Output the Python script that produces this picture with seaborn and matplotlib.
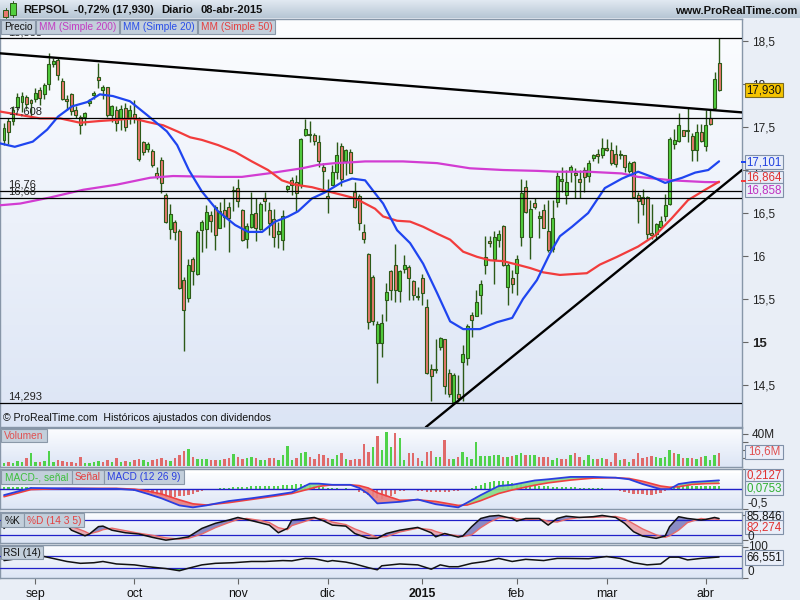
import numpy as np
import pandas as pd
import matplotlib
matplotlib.use("Agg")
import matplotlib.pyplot as plt
import seaborn as sns
from matplotlib.patches import Rectangle
from matplotlib.colors import LinearSegmentedColormap

sns.set_style("white")
plt.rcParams['font.family'] = ['Liberation Sans', 'DejaVu Sans']

# ---------------- data ----------------
holidays = ['2014-12-25', '2014-12-26', '2015-01-01', '2015-04-03', '2015-04-06']
month_labels = ['sep', 'oct', 'nov', 'dic', '2015', 'feb', 'mar', 'abr']

opens = [17.35, 17.57, 17.57, 17.73, 17.79, 17.85, 17.81, 17.83, 17.93, 17.88,
         18.00, 18.23, 18.28, 18.03, 17.83, 17.88, 17.70, 17.62, 17.62, 17.78,
         17.87, 18.08, 17.93, 17.96, 17.64, 17.70, 17.60, 17.72, 17.61, 17.65,
         17.60, 17.32, 17.25, 17.22, 16.97, 17.12, 16.71, 16.31, 16.39, 16.295,
         15.72, 15.51, 15.97, 15.79, 16.30, 16.31, 16.48, 16.57, 16.33, 16.53,
         16.57, 16.76, 16.79, 16.53, 16.20, 16.34, 16.50, 16.31, 16.68, 16.53,
         16.43, 16.26, 16.19, 16.78, 16.88, 16.86, 16.83, 17.41, 17.41, 17.41,
         17.33, 17.03, 16.70, 16.83, 16.98, 17.28, 17.10, 17.21, 16.75, 16.70,
         16.28, 16.02, 15.76, 14.99, 14.99, 15.49, 15.82, 15.89, 15.59, 15.85,
         15.87, 15.71, 15.54, 15.74, 15.41, 14.69, 14.68, 14.94, 15.03, 14.64,
         14.30, 14.40, 14.77, 14.81, 15.31, 15.30, 15.55, 15.90, 16.18, 15.97,
         16.19, 16.35, 15.64, 15.74, 15.80, 16.22, 16.80, 16.22, 16.62, 16.44,
         16.53, 16.29, 16.08, 16.63, 16.87, 16.71, 16.99, 16.97, 16.90, 17.00,
         16.93, 17.14, 17.19, 17.18, 17.26, 17.23, 17.19, 17.17, 17.17, 16.99,
         17.09, 16.71, 16.69, 16.69, 16.27, 16.26, 16.34, 16.46, 16.61, 17.30,
         17.34, 17.46, 17.45, 17.39, 17.23, 17.44, 17.28, 17.61, 17.725, 18.24]
highs = [17.55, 17.60, 17.74, 17.90, 17.91, 17.87, 17.83, 17.95, 17.97, 18.01,
         18.36, 18.30, 18.30, 18.07, 17.87, 17.89, 17.74, 17.64, 17.68, 17.83,
         17.92, 18.25, 17.99, 17.97, 17.76, 17.74, 17.76, 17.78, 17.76, 17.81,
         17.62, 17.34, 17.33, 17.24, 17.04, 17.155, 16.73, 16.61, 16.42, 16.31,
         15.76, 15.97, 15.99, 16.30, 16.42, 16.59, 16.52, 16.59, 16.63, 16.67,
         16.63, 16.81, 16.90, 16.55, 16.38, 16.75, 16.67, 16.63, 16.75, 16.63,
         16.55, 16.40, 16.53, 16.83, 16.92, 16.94, 17.37, 17.59, 17.57, 17.43,
         17.41, 17.08, 16.90, 17.06, 17.33, 17.31, 17.25, 17.25, 16.86, 16.72,
         16.37, 16.03, 15.78, 15.24, 15.33, 15.69, 15.84, 16.14, 15.84, 16.01,
         15.90, 15.72, 15.64, 15.79, 15.50, 14.75, 15.04, 15.06, 15.04, 14.69,
         14.64, 14.62, 14.97, 15.21, 15.35, 15.61, 15.72, 16.23, 16.23, 16.29,
         16.30, 16.36, 15.92, 15.84, 16.01, 16.90, 16.88, 16.65, 16.67, 16.52,
         16.61, 16.65, 16.65, 16.98, 17.04, 17.00, 17.06, 17.02, 17.00, 17.04,
         17.12, 17.19, 17.25, 17.37, 17.36, 17.33, 17.29, 17.23, 17.18, 17.11,
         17.10, 16.75, 16.78, 16.70, 16.61, 16.38, 16.46, 16.72, 17.38, 17.48,
         17.66, 17.47, 17.72, 17.43, 17.54, 17.53, 17.70, 17.70, 18.14, 18.53]
lows = [17.29, 17.30, 17.52, 17.70, 17.68, 17.71, 17.60, 17.79, 17.76, 17.83,
        17.93, 18.20, 18.05, 17.81, 17.70, 17.64, 17.60, 17.42, 17.52, 17.74,
        17.83, 17.95, 17.83, 17.62, 17.56, 17.45, 17.47, 17.45, 17.54, 17.55,
        17.10, 17.17, 17.21, 17.04, 16.90, 16.73, 16.38, 16.20, 16.19, 15.62,
        14.89, 15.47, 15.66, 15.78, 16.05, 16.09, 16.28, 16.07, 16.32, 16.34,
        16.05, 16.52, 16.57, 16.17, 16.09, 16.32, 16.17, 16.30, 16.52, 16.24,
        16.11, 16.09, 16.07, 16.75, 16.71, 16.52, 16.79, 17.39, 17.33, 17.29,
        17.04, 16.73, 16.50, 16.83, 16.90, 16.81, 16.94, 16.96, 16.56, 16.30,
        16.15, 15.15, 15.20, 14.52, 14.83, 15.24, 15.49, 15.47, 15.47, 15.80,
        15.49, 15.49, 15.49, 15.43, 14.63, 14.31, 14.64, 14.91, 14.40, 14.36,
        14.293, 14.30, 14.31, 14.73, 15.06, 15.30, 15.33, 15.79, 16.11, 15.68,
        16.11, 15.88, 15.43, 15.57, 15.55, 16.12, 16.50, 15.96, 16.55, 16.21,
        16.32, 16.05, 16.05, 16.57, 16.75, 16.60, 16.86, 16.67, 16.67, 16.75,
        16.86, 17.10, 17.08, 17.14, 17.22, 17.06, 17.04, 17.13, 16.98, 16.96,
        16.67, 16.38, 16.48, 16.20, 16.20, 16.21, 16.32, 16.41, 16.59, 17.24,
        17.33, 17.39, 17.33, 17.10, 17.10, 17.33, 17.22, 17.52, 17.71, 17.92]
closes = [17.49, 17.44, 17.70, 17.85, 17.86, 17.77, 17.78, 17.90, 17.84, 17.99,
          18.23, 18.27, 18.10, 17.83, 17.80, 17.69, 17.64, 17.52, 17.66, 17.80,
          17.90, 18.05, 17.96, 17.64, 17.74, 17.55, 17.71, 17.50, 17.70, 17.60,
          17.13, 17.21, 17.30, 17.06, 16.92, 16.85, 16.39, 16.49, 16.28, 15.63,
          15.37, 15.90, 15.83, 16.28, 16.39, 16.51, 16.41, 16.24, 16.52, 16.45,
          16.44, 16.77, 16.64, 16.19, 16.35, 16.49, 16.33, 16.61, 16.64, 16.38,
          16.22, 16.29, 16.47, 16.81, 16.83, 16.73, 17.36, 17.48, 17.42, 17.34,
          17.10, 16.99, 16.68, 16.98, 17.18, 16.90, 17.23, 16.97, 16.57, 16.38,
          16.20, 15.23, 15.24, 15.21, 15.22, 15.58, 15.61, 15.60, 15.82, 15.89,
          15.74, 15.55, 15.52, 15.57, 14.64, 14.60, 14.69, 15.05, 14.49, 14.40,
          14.62, 14.35, 14.86, 15.19, 15.26, 15.46, 15.68, 15.99, 16.15, 16.22,
          16.26, 15.90, 15.90, 15.68, 15.96, 16.73, 16.51, 16.55, 16.57, 16.46,
          16.33, 16.07, 16.44, 16.93, 16.90, 16.86, 17.03, 16.94, 16.86, 16.92,
          17.08, 17.17, 17.16, 17.26, 17.23, 17.08, 17.07, 17.19, 17.04, 17.08,
          16.69, 16.64, 16.61, 16.26, 16.24, 16.37, 16.41, 16.59, 17.36, 17.35,
          17.52, 17.40, 17.46, 17.23, 17.44, 17.34, 17.52, 17.53, 18.06, 17.93]
volume_m = [4.2, 5.4, 4.2, 6.7, 5.4, 9.6, 15.8, 5.4, 5.4, 6.7,
            19.0, 5.4, 7.5, 6.7, 5.4, 5.4, 4.2, 11.7, 4.2, 4.2,
            5.4, 6.7, 5.4, 7.5, 5.4, 9.6, 5.4, 6.7, 5.4, 7.5,
            8.3, 7.5, 5.4, 7.5, 8.3, 9.6, 7.5, 6.7, 9.6, 13.8,
            19.2, 20.8, 11.7, 8.3, 8.3, 8.3, 7.5, 7.5, 7.5, 8.3,
            9.6, 15.0, 11.7, 8.3, 9.6, 11.7, 9.6, 7.5, 7.5, 9.6,
            9.6, 7.5, 13.8, 25.0, 7.5, 9.6, 15.8, 17.9, 11.7, 8.3,
            15.0, 13.8, 9.6, 8.3, 13.8, 15.8, 8.3, 7.5, 8.3, 8.3,
            28.0, 17.9, 23.3, 37.5, 20.0, 43.0, 23.3, 40.8, 34.6, 7.5,
            15.8, 16.7, 9.6, 6.7, 17.9, 19.2, 11.7, 10.8, 32.5, 8.3,
            8.3, 11.7, 17.9, 11.7, 8.3, 30.4, 12.5, 12.5, 12.5, 13.8,
            13.8, 10.8, 11.7, 12.5, 13.8, 15.8, 13.8, 13.8, 13.8, 11.7,
            11.7, 11.7, 7.5, 9.6, 8.3, 8.3, 13.8, 15.8, 11.7, 7.5,
            13.8, 8.3, 8.3, 9.6, 8.3, 5.4, 16.7, 7.5, 8.3, 5.4,
            8.3, 15.8, 9.6, 11.7, 12.5, 11.7, 9.6, 11.7, 20.0, 15.8,
            15.0, 9.6, 9.6, 9.6, 8.3, 11.7, 12.5, 7.5, 13.8, 16.6]

ma20_idx = [-0.9, 2.4, 6.4, 9.6, 12.0, 15.1, 18.5, 21.3, 24.2, 28.0, 31.8, 36.2, 38.5, 41.1,
            44.0, 47.6, 51.4, 54.3, 57.4, 60.3, 63.2, 65.4, 68.5, 71.4, 75.2, 77.4, 80.3,
            82.5, 84.3, 87.4, 90.3, 93.2, 96.3, 99.2, 102.1, 105.8, 109.6, 113.0, 115.4,
            118.5, 121.4, 123.6, 126.3, 129.9, 133.6, 137.4, 141.0, 144.1, 147.0, 150.8,
            153.7, 156.6, 159.0]
ma20 = [17.31, 17.27, 17.33, 17.47, 17.62, 17.74, 17.79, 17.88, 17.86, 17.80, 17.64, 17.45, 17.29, 17.00,
        16.75, 16.52, 16.36, 16.28, 16.28, 16.40, 16.46, 16.52, 16.67, 16.74, 16.86, 16.90, 16.88,
        16.73, 16.61, 16.30, 16.15, 15.91, 15.57, 15.24, 15.15, 15.15, 15.23, 15.28, 15.50,
        15.72, 16.03, 16.23, 16.34, 16.50, 16.79, 16.90, 16.98, 16.92, 16.85, 16.91,
        16.97, 17.00, 17.101]
ma50_idx = [-0.9, 3.6, 8.0, 12.5, 16.9, 21.3, 24.2, 28.7, 31.8, 35.4, 38.5, 41.4, 44.0, 47.6,
            51.4, 55.1, 58.7, 61.8, 64.7, 68.5, 71.4, 75.2, 78.1, 80.3, 82.5, 84.3, 87.4,
            90.3, 93.2, 96.3, 99.2, 102.1, 105.2, 108.1, 111.0, 114.1, 117.0, 119.9, 123.6,
            129.6, 132.5, 136.3, 141.0, 144.8, 148.5, 152.1, 155.9, 159.0]
ma50 = [17.68, 17.64, 17.60, 17.60, 17.55, 17.57, 17.58, 17.60, 17.56, 17.52, 17.45, 17.38, 17.35, 17.29,
        17.21, 17.10, 17.00, 16.88, 16.83, 16.80, 16.76, 16.71, 16.67, 16.61, 16.55, 16.46, 16.41,
        16.40, 16.34, 16.26, 16.19, 16.05, 15.99, 15.95, 15.94, 15.90, 15.86, 15.81, 15.78,
        15.80, 15.90, 15.99, 16.11, 16.24, 16.44, 16.65, 16.77, 16.864]
ma200_idx = [-0.9, 3.6, 10.2, 17.6, 25.1, 32.5, 37.6, 47.6, 52.9, 58.7, 62.5, 66.3, 69.8, 73.6,
             77.4, 80.3, 88.7, 96.3, 103.6, 111.0, 118.5, 123.0, 129.9, 137.4, 141.0, 144.8,
             148.5, 152.1, 155.9, 159.0]
ma200 = [16.59, 16.61, 16.68, 16.77, 16.83, 16.91, 16.93, 16.92, 16.92, 16.96, 16.99, 17.02, 17.06, 17.08,
         17.09, 17.10, 17.10, 17.08, 17.02, 17.00, 16.99, 16.98, 16.98, 16.96, 16.92, 16.90,
         16.88, 16.87, 16.86, 16.858]

levels = [18.535, 17.608, 16.76, 16.68, 14.293]
level_labels = ['18,535', '17,608', '16,76', '16,68', '14,293']
trend_down = {'idx': [-0.9, 164.1], 'price': [18.357, 17.67]}
trend_up = {'idx': [93.8, 164.1], 'price': [14.01, 17.00]}

price_ticks = [14.5, 15, 15.5, 16, 16.5, 17, 17.5, 18, 18.5]
price_tick_labels = ['14,5', '15', '15,5', '16', '16,5', '17', '17,5', '18', '18,5']

macd_idx = [0, 6, 14, 21, 25, 29, 32, 35, 39, 42, 45, 50, 55, 60, 64, 66, 68, 70, 73, 77,
            79, 81, 83, 88, 92, 96, 101, 103, 106, 110, 113, 118, 121, 126, 131, 136, 139, 142,
            146, 148, 150, 153, 156, 159]
macd_line = [-0.16, 0.02, 0.01, 0.0, 0.0, -0.03, -0.13, -0.24, -0.42, -0.47, -0.42, -0.31, -0.24,
             -0.16, -0.09, 0.02, 0.13, 0.13, 0.10, 0.10, 0.02, -0.13, -0.37, -0.33, -0.27, -0.39,
             -0.47, -0.35, -0.16, 0.07, 0.10, 0.21, 0.24, 0.30, 0.30, 0.28, 0.24, 0.12, -0.01,
             -0.01, 0.12, 0.17, 0.19, 0.2127]
signal_line = [-0.20, -0.02, 0.01, 0.01, 0.01, -0.01, -0.06, -0.13, -0.28, -0.38, -0.41, -0.35,
               -0.27, -0.19, -0.12, -0.06, 0.0, 0.06, 0.10, 0.10, 0.08, 0.02, -0.10, -0.29, -0.28,
               -0.32, -0.42, -0.41, -0.30, -0.12, -0.03, 0.09, 0.15, 0.22, 0.27, 0.28, 0.26, 0.19,
               0.07, 0.04, 0.05, 0.11, 0.13, 0.137]
macd_hist = [0.04, 0.05, 0.05, 0.05, 0.05, 0.04, 0.04, 0.03, 0.03, 0.02, 0.02, 0.01, 0.01, 0.0, 0.0,
             -0.02, -0.03, -0.03, -0.03, -0.03, -0.02, -0.02,
             -0.01, -0.01, 0.0, -0.01, -0.01, -0.02, -0.03,
             -0.05, -0.07, -0.09, -0.11, -0.14, -0.16, -0.18, -0.2, -0.21, -0.2, -0.19, -0.17, -0.15,
             -0.12, -0.09, -0.06,
             -0.04, -0.02, 0.0,
             0.02, 0.03, 0.03, 0.04, 0.04, 0.05, 0.05, 0.06, 0.06, 0.07, 0.07, 0.07, 0.08, 0.08,
             0.09, 0.1, 0.1, 0.11, 0.11, 0.1, 0.09,
             0.08, 0.06, 0.04, 0.02, 0.01, 0.01, 0.0, 0.01,
             -0.02, -0.04, -0.07, -0.1, -0.15, -0.2, -0.24, -0.25, -0.22, -0.18, -0.12,
             -0.06, -0.05, -0.04, -0.04, -0.05, -0.06, -0.07, -0.08, -0.08, -0.08, -0.07, -0.07,
             -0.06, -0.05, -0.03, -0.01, 0.02,
             0.06, 0.1, 0.14, 0.17, 0.19, 0.2, 0.2, 0.19, 0.15, 0.12, 0.11, 0.1, 0.1, 0.09, 0.08, 0.07,
             0.06, 0.05, 0.05, 0.05, 0.04, 0.04, 0.04, 0.03, 0.03, 0.02, 0.02, 0.01, 0.01, 0.0,
             -0.02, -0.04, -0.06, -0.08, -0.1, -0.12, -0.13, -0.14, -0.15, -0.15, -0.14, -0.1, -0.05,
             0.0, 0.04, 0.06, 0.07, 0.07, 0.07, 0.06, 0.06, 0.06, 0.07, 0.07, 0.0753]

stoch_idx = [0, 1, 14, 15, 18, 19, 21, 22, 24, 27, 30, 33, 36, 39, 41, 44, 47, 50, 52, 54,
             57, 59, 61, 63, 64, 67, 69, 71, 73, 76, 78, 81, 83, 85, 88, 92, 95, 96, 98, 101,
             102, 104, 106, 108, 110, 113, 114, 116, 119, 121, 123, 125, 128, 131, 133, 136,
             138, 140, 142, 145, 147, 148, 150, 152, 155, 156, 158, 159]
stoch_k = [47, 67, 60, 40, 18, 25, 54, 56, 40, 30, 25, 12, 1, 8, 14, 47, 67, 80, 90, 82,
           69, 60, 30, 47, 80, 86, 90, 77, 60, 56, 27, 8, 8, 27, 40, 51, 30, 14, 27, 13,
           17, 54, 86, 95, 98, 86, 76, 86, 86, 60, 86, 95, 90, 93, 98, 90,
           67, 34, 17, 8, 17, 54, 93, 86, 80, 82, 90, 85.846]
stoch_d = [60, 60, 62, 55, 35, 26, 35, 42, 48, 38, 28, 20, 10, 5, 8, 25, 50, 70, 82, 86,
           78, 70, 50, 42, 58, 75, 86, 85, 72, 62, 45, 25, 12, 15, 33, 48, 42, 35, 25, 18,
           15, 22, 50, 72, 88, 90, 85, 82, 84, 75, 72, 82, 90, 90, 92, 94,
           85, 65, 45, 22, 12, 18, 40, 70, 86, 83, 84, 82.274]

rsi_idx = [0, 1, 6, 9, 14, 17, 20, 22, 25, 29, 32, 36, 39, 41, 44, 47, 51, 55, 58, 62,
           64, 67, 69, 72, 73, 76, 78, 81, 83, 84, 88, 92, 95, 97, 99, 101, 104, 107, 110, 113,
           116, 120, 123, 125, 130, 134, 137, 140, 143, 146, 148, 150, 152, 155, 159]
rsi_vals = [55, 57, 68, 68, 52, 46, 48, 52, 44, 41, 35, 29, 22, 30, 41, 46, 48, 52, 52, 55,
            54, 62, 61, 52, 55, 50, 44, 32, 25, 38, 44, 41, 27, 41, 35, 35, 46, 52, 62, 52,
            59, 55, 62, 62, 61, 68, 62, 48, 41, 44, 66, 66, 57, 62, 66.551]

# ---------------- setup ----------------
dates = pd.bdate_range('2014-08-21', '2015-04-08')
dates = dates[~dates.isin(pd.to_datetime(holidays))]
n = len(closes)
dates = dates[-n:]
idx = np.arange(n)
mon = np.array([d.month for d in dates])
month_pos = [i for i in range(1, n) if mon[i] != mon[i - 1]]

o = np.array(opens); h = np.array(highs); l = np.array(lows); c = np.array(closes)

W, H = 800, 600
XMIN, XMAX = -0.89, 164.1
fig = plt.figure(figsize=(8, 6), dpi=100, facecolor='#e9eef6')

def px_axes(x0, y0, x1, y1):
    return fig.add_axes([x0 / W, 1 - y1 / H, (x1 - x0) / W, (y1 - y0) / H])

def px_box(x0, y0, x1, y1, fc, ec='#7f8e9e', z=10, lw=0.8):
    fig.add_artist(Rectangle((x0 / W, 1 - y1 / H), (x1 - x0) / W, (y1 - y0) / H,
                             transform=fig.transFigure, facecolor=fc, edgecolor=ec,
                             lw=lw, zorder=z))

def px_line(x0, y0, x1, y1, color, lw=0.8, z=10):
    fig.add_artist(plt.Line2D([x0 / W, x1 / W], [1 - y0 / H, 1 - y1 / H],
                              transform=fig.transFigure, color=color, lw=lw, zorder=z))

def px_text(x, y, s, color='#111111', size=8, ha='left', weight='normal', z=11):
    fig.text(x / W, 1 - y / H, s, color=color, fontsize=size, ha=ha, va='center',
             fontweight=weight, zorder=z)

def lab(x0, x1, y0, y1, s, color):
    px_box(x0, y0, x1, y1, '#c3cfdb', ec='#8a98a8')
    px_text((x0 + x1) / 2, (y0 + y1) / 2 + 0.5, s, color=color, size=7.3, ha='center')

def fmt(v, d=3):
    return f"{v:.{d}f}".replace('.', ',')

bg_cmap = LinearSegmentedColormap.from_list('bg', ['#fcfdff', '#dce5f5'])
grad = np.linspace(0, 1, 256).reshape(-1, 1)

def panel(ax, ylim):
    ax.imshow(grad, cmap=bg_cmap, extent=[XMIN, XMAX, ylim[0], ylim[1]], aspect='auto',
              origin='upper', zorder=-10)
    ax.set_xlim(XMIN, XMAX)
    ax.set_ylim(*ylim)
    for s in ax.spines.values():
        s.set_color('#8796a8'); s.set_linewidth(1)
    ax.set_xticks([])
    ax.yaxis.tick_right()
    ax.tick_params(axis='y', direction='out', length=4, width=0.8, color='#666666',
                   labelsize=8.5, pad=3, labelcolor='#222222')
    ax.set_xlabel(''); ax.set_ylabel('')

# ---------------- header ----------------
hax = px_axes(0, 0, 800, 18)
hax.imshow(grad, cmap=LinearSegmentedColormap.from_list('h', ['#e2eaf2', '#b6c5d4']),
           extent=[0, 1, 0, 1], aspect='auto', origin='upper')
hax.set_xlim(0, 1); hax.set_ylim(0, 1); hax.axis('off')
px_line(5.5, 8, 5.5, 18, '#2c5a18', lw=0.7)
px_box(3, 10, 8, 17, '#e8786d', ec='#2c5a18', lw=0.7)
px_line(13, 1, 13, 17, '#2c5a18', lw=0.7)
px_box(10, 3, 16, 15, '#52cf3e', ec='#2c5a18', lw=0.7)
px_text(23, 10, 'REPSOL', size=8.0, weight='bold')
px_text(74, 10, '-0,72% (' + fmt(closes[-1]) + ')', size=8.0, weight='bold')
px_text(161, 10, 'Diario', size=8.0, weight='bold')
px_text(201, 10, '08-abr-2015', size=8.0, weight='bold')
px_text(797, 11, 'www.ProRealTime.com', size=8.0, ha='right', weight='bold')

# ---------------- main price panel ----------------
ax = px_axes(0, 19, 742, 427)
panel(ax, (14.0116, 18.756))
up = c >= o
ax.vlines(idx, l, h, color='#2c5a18', lw=1.0, zorder=2)
ax.bar(idx, np.maximum(np.abs(c - o), 0.01), bottom=np.minimum(o, c), width=0.66,
       color=np.where(up, '#52cf3e', '#e8786d'), edgecolor='#2c5a18', linewidth=0.8, zorder=3)
sns.lineplot(x=ma200_idx, y=ma200, ax=ax, color='#d23cd2', lw=1.6, sort=False, estimator=None, zorder=4)
sns.lineplot(x=ma50_idx, y=ma50, ax=ax, color='#f23c3c', lw=1.6, sort=False, estimator=None, zorder=4)
sns.lineplot(x=ma20_idx, y=ma20, ax=ax, color='#1f45f0', lw=1.6, sort=False, estimator=None, zorder=4)
for lv, lt in zip(levels, level_labels):
    ax.axhline(lv, color='black', lw=0.9, zorder=5)
    ax.text(0.9, lv + 0.01, lt, fontsize=8, color='#222222', va='bottom', ha='left', zorder=6)
ax.plot(trend_down['idx'], trend_down['price'], color='black', lw=1.7, zorder=5)
ax.plot(trend_up['idx'], trend_up['price'], color='black', lw=1.7, zorder=5)
ax.set_yticks(price_ticks)
ax.set_yticklabels(price_tick_labels)
for t in ax.get_yticklabels():
    if t.get_text() == '15':
        t.set_fontweight('bold'); t.set_fontsize(9.5)
ax.text(0.004, 0.022, '\u00a9 ProRealTime.com  Hist\u00f3ricos ajustados con dividendos',
        transform=ax.transAxes, fontsize=7.6, color='#111111', va='center', zorder=6)

lab(1, 35, 20, 34, 'Precio', '#111111')
lab(36, 119, 20, 34, 'MM (Simple 200)', '#c23cc2')
lab(120, 197, 20, 34, 'MM (Simple 20)', '#2a4ee8')
lab(198, 275, 20, 34, 'MM (Simple 50)', '#e44040')

px_box(745, 83, 783, 97, '#f5c400', ec='#7a6a20')
px_text(764, 90.5, fmt(closes[-1]), ha='center', size=8.3)
px_box(745, 155, 783, 169, '#e9eef9', ec='#8090a8')
px_text(764, 162.5, fmt(ma20[-1]), color='#2040e0', ha='center', size=8.3)
px_box(745, 171, 783, 183, '#e9eef9', ec='#8090a8')
px_text(764, 177.5, fmt(ma50[-1]), color='#e03030', ha='center', size=8.3)
px_box(745, 183, 783, 197, '#e9eef9', ec='#8090a8')
px_text(764, 190.5, fmt(ma200[-1]), color='#c030c0', ha='center', size=8.3)
px_box(741, 161, 746, 163, '#1f45f0', ec='none')
px_box(741, 180, 746, 182, '#f23c3c', ec='none')

# ---------------- volume ----------------
vax = px_axes(0, 428, 742, 467)
panel(vax, (-1.25, 47.5))
vol_up = [c[0] >= o[0]] + [c[i] >= c[i - 1] for i in range(1, n)]
vax.bar(idx, volume_m, width=0.55, color=np.where(vol_up, '#4fd24a', '#e06a6a'),
        edgecolor='none', zorder=3)
vax.set_yticks([10, 20, 30, 40])
vax.set_yticklabels(['', '', '', '40M'])
lab(1, 47, 429, 442, 'Volumen', '#e05050')
px_box(745, 445, 783, 459, '#e9eef9', ec='#8090a8')
px_text(764, 452, fmt(volume_m[-1], 1) + 'M', color='#e05050', ha='center', size=8.3)

# ---------------- MACD ----------------
max_ = px_axes(0, 469, 742, 509)
panel(max_, (-0.511, 0.378))
hist = np.array(macd_hist)
max_.bar(idx, hist, width=0.5, color=np.where(hist >= 0, '#4fd24a', '#e06a6a'),
         edgecolor='none', zorder=2)
max_.axhline(0, color='#2020c8', lw=1.0, zorder=3)
mi = np.array(macd_idx, dtype=float); ml = np.array(macd_line); sl = np.array(signal_line)
max_.fill_between(mi, ml, sl, where=ml >= sl, interpolate=True, color='#86dc86', alpha=0.9, lw=0, zorder=3)
max_.fill_between(mi, ml, sl, where=ml < sl, interpolate=True, color='#e88080', alpha=0.9, lw=0, zorder=3)
sns.lineplot(x=macd_idx, y=signal_line, ax=max_, color='#f04040', lw=1.2, sort=False, estimator=None, zorder=4)
sns.lineplot(x=macd_idx, y=macd_line, ax=max_, color='#2a3ee0', lw=1.3, sort=False, estimator=None, zorder=5)
max_.set_yticks([-0.5, 0.5])
max_.set_yticklabels(['', ''])
px_text(748, 504, '-0,5', size=8.5, color='#222222')
lab(1, 72, 470, 484, 'MACD-, se\u00f1al', '#3cbf3c')
lab(72, 104, 470, 484, 'Se\u00f1al', '#e44040')
lab(104, 184, 470, 484, 'MACD (12 26 9)', '#2a3ee0')
px_box(745, 469, 783, 482, '#e9eef9', ec='#8090a8')
px_text(764, 476, fmt(macd_line[-1], 4), color='#e03030', ha='center', size=8.3)
px_box(745, 481, 783, 495, '#e9eef9', ec='#8090a8')
px_text(764, 488.5, fmt(macd_hist[-1], 4), color='#30b030', ha='center', size=8.3)

# ---------------- Stochastic ----------------
sax = px_axes(0, 512, 742, 543)
panel(sax, (-10.2, 111.4))
si = np.array(stoch_idx, dtype=float); kk = np.array(stoch_k, dtype=float); dd = np.array(stoch_d, dtype=float)
sax.fill_between(si, kk, dd, where=kk >= dd, interpolate=True, color='#6a6ab4', alpha=0.75, lw=0, zorder=2)
sax.fill_between(si, kk, dd, where=kk < dd, interpolate=True, color='#e8a0a8', alpha=0.85, lw=0, zorder=2)
sax.axhline(80, color='#2020c8', lw=0.9, zorder=3)
sax.axhline(20, color='#2020c8', lw=0.9, zorder=3)
sns.lineplot(x=stoch_idx, y=stoch_d, ax=sax, color='#e86a6a', lw=1.0, sort=False, estimator=None, zorder=4)
sns.lineplot(x=stoch_idx, y=stoch_k, ax=sax, color='#111111', lw=1.1, sort=False, estimator=None, zorder=5)
sax.set_yticks([0, 100])
sax.set_yticklabels(['', ''])
px_text(748, 537, '0', size=8.5, color='#222222')
lab(1, 24, 513, 527, '%K', '#111111')
lab(24, 84, 513, 527, '%D (14 3 5)', '#e44040')
px_box(745, 511, 783, 523, '#e9eef9', ec='#8090a8')
px_text(764, 516.5, fmt(stoch_k[-1]), color='#111111', ha='center', size=8.3)
px_box(745, 520, 783, 534, '#e9eef9', ec='#8090a8')
px_text(764, 527, fmt(stoch_d[-1]), color='#e03030', ha='center', size=8.3)

# ---------------- RSI ----------------
rax = px_axes(0, 545, 742, 578)
panel(rax, (-1.6, 105.5))
ri = np.array(rsi_idx, dtype=float); rv = np.array(rsi_vals, dtype=float)
rax.fill_between(ri, rv, 30, where=rv < 30, interpolate=True, color='#4fd24a', lw=0, zorder=2)
rax.fill_between(ri, rv, 70, where=rv > 70, interpolate=True, color='#e06a6a', lw=0, zorder=2)
rax.axhline(70, color='#2020c8', lw=0.9, zorder=3)
rax.axhline(30, color='#2020c8', lw=0.9, zorder=3)
sns.lineplot(x=rsi_idx, y=rsi_vals, ax=rax, color='#111111', lw=1.1, sort=False, estimator=None, zorder=4)
rax.set_yticks([0, 100])
rax.set_yticklabels(['', ''])
px_text(748, 547, '100', size=8.5, color='#222222')
px_text(748, 572, '0', size=8.5, color='#222222')
lab(1, 43, 546, 559, 'RSI (14)', '#111111')
px_box(745, 550, 783, 565, '#e9eef9', ec='#8090a8')
px_text(764, 557.5, fmt(rsi_vals[-1]), color='#111111', ha='center', size=8.3)

rax.set_xticks(month_pos)
rax.set_xticklabels(month_labels)
rax.tick_params(axis='x', direction='out', length=4, width=0.8, color='#666666',
                labelsize=8.8, pad=3, labelcolor='#111111', bottom=True)
for t in rax.get_xticklabels():
    if t.get_text() == '2015':
        t.set_fontweight('bold')

fig.savefig('out.png', dpi=100, facecolor=fig.get_facecolor())
